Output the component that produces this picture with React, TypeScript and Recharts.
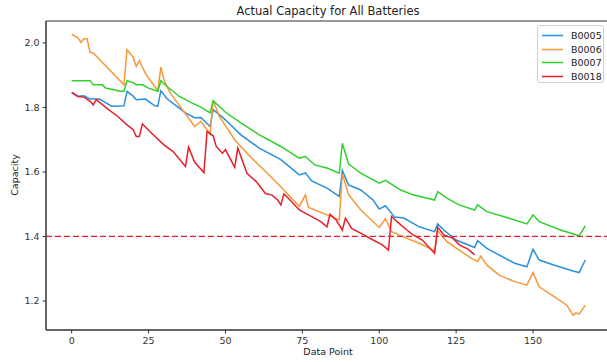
import React from 'react';
import { LineChart, Line, XAxis, YAxis, ReferenceLine, ReferenceArea } from 'recharts';

// values (cycle index -> capacity), vertices only
const b0005Idx = [0, 2, 4, 6, 9, 11, 13, 17, 18, 20, 21, 24, 27, 28, 29, 31, 34, 37, 40, 42, 45, 46, 49, 52, 55, 61, 68, 74, 76, 78, 83, 87, 88, 90, 94, 98, 100, 102, 105, 108, 113, 118, 119, 121, 125, 131, 132, 135, 144, 148, 150, 152, 157, 163, 165, 167];
const b0005Cap = [1.847, 1.835, 1.836, 1.826, 1.826, 1.815, 1.804, 1.805, 1.850, 1.835, 1.824, 1.826, 1.805, 1.804, 1.852, 1.827, 1.805, 1.783, 1.768, 1.769, 1.741, 1.793, 1.770, 1.743, 1.715, 1.674, 1.638, 1.591, 1.597, 1.572, 1.550, 1.524, 1.605, 1.560, 1.544, 1.513, 1.485, 1.495, 1.460, 1.457, 1.430, 1.415, 1.439, 1.420, 1.389, 1.366, 1.387, 1.363, 1.317, 1.306, 1.360, 1.327, 1.311, 1.293, 1.288, 1.327];

const b0006Idx = [0, 2, 3, 4, 5, 6, 7, 17, 18, 20, 21, 22, 24, 27, 28, 29, 30, 32, 40, 42, 45, 46, 48, 53, 58, 64, 69, 74, 76, 77, 83, 87, 88, 90, 94, 100, 102, 104, 109, 113, 118, 119, 122, 126, 130, 132, 133, 135, 139, 144, 148, 150, 152, 157, 161, 163, 164, 165, 167];
const b0006Cap = [2.027, 2.016, 2.002, 2.013, 2.013, 1.971, 1.969, 1.870, 1.979, 1.955, 1.927, 1.945, 1.905, 1.865, 1.853, 1.925, 1.886, 1.845, 1.741, 1.757, 1.718, 1.822, 1.772, 1.700, 1.648, 1.592, 1.544, 1.493, 1.529, 1.490, 1.467, 1.451, 1.594, 1.530, 1.482, 1.428, 1.455, 1.415, 1.394, 1.379, 1.355, 1.418, 1.384, 1.358, 1.332, 1.322, 1.339, 1.311, 1.280, 1.260, 1.249, 1.288, 1.244, 1.213, 1.187, 1.156, 1.163, 1.159, 1.187];

const b0007Idx = [0, 6, 7, 10, 11, 16, 17, 18, 20, 21, 23, 25, 28, 29, 31, 35, 39, 42, 45, 46, 50, 55, 61, 68, 74, 76, 79, 83, 87, 88, 90, 94, 100, 102, 107, 111, 118, 119, 122, 126, 131, 132, 135, 142, 148, 150, 152, 159, 165, 167];
const b0007Cap = [1.883, 1.883, 1.870, 1.870, 1.860, 1.850, 1.850, 1.883, 1.877, 1.870, 1.870, 1.860, 1.850, 1.883, 1.865, 1.834, 1.814, 1.801, 1.783, 1.821, 1.785, 1.752, 1.715, 1.679, 1.643, 1.648, 1.622, 1.612, 1.596, 1.689, 1.625, 1.596, 1.565, 1.574, 1.544, 1.529, 1.513, 1.539, 1.519, 1.498, 1.482, 1.498, 1.477, 1.457, 1.439, 1.467, 1.446, 1.420, 1.402, 1.433];

const b0018Idx = [0, 2, 4, 6, 7, 8, 12, 15, 18, 20, 21, 22, 23, 26, 30, 33, 37, 38, 40, 43, 44, 46, 47, 49, 50, 53, 54, 57, 60, 63, 65, 67, 68, 69, 71, 74, 77, 81, 83, 84, 86, 88, 89, 91, 95, 98, 101, 103, 104, 107, 109, 111, 114, 118, 119, 121, 124, 126, 129, 131];
const b0018Cap = [1.847, 1.834, 1.832, 1.819, 1.808, 1.824, 1.793, 1.772, 1.746, 1.731, 1.710, 1.710, 1.749, 1.720, 1.684, 1.663, 1.617, 1.677, 1.630, 1.598, 1.725, 1.712, 1.679, 1.658, 1.669, 1.614, 1.674, 1.596, 1.570, 1.533, 1.529, 1.513, 1.498, 1.532, 1.513, 1.482, 1.467, 1.446, 1.430, 1.469, 1.451, 1.420, 1.457, 1.425, 1.405, 1.389, 1.374, 1.358, 1.462, 1.436, 1.420, 1.405, 1.389, 1.348, 1.429, 1.405, 1.394, 1.374, 1.360, 1.343];

const seriesNames = ['B0005', 'B0006', 'B0007', 'B0018'];
const seriesColors = ['#2a8fdc', '#f5983a', '#2fcf2f', '#e5202a'];
const xTicks = [0, 25, 50, 75, 100, 125, 150];
const yTicks = [1.2, 1.4, 1.6, 1.8, 2.0];
const threshold = 1.4;

const toPoints = (idx: number[], cap: number[]) => idx.map((x, i) => ({ x, y: cap[i] }));

const series = [
  toPoints(b0005Idx, b0005Cap),
  toPoints(b0006Idx, b0006Cap),
  toPoints(b0007Idx, b0007Cap),
  toPoints(b0018Idx, b0018Cap),
];

const FONT = '"DejaVu Sans", sans-serif';
const X_DOMAIN = [-8.35, 175.35];
const Y_DOMAIN = [1.11, 2.068];

export default function App() {
  return (
    <div style={{ position: 'absolute', left: 0, top: 0, width: 607, height: 362, overflow: 'hidden', background: '#fff', fontFamily: FONT }}>
      <LineChart width={620} height={362} margin={{ top: 21, right: 9, bottom: 0, left: 0 }}>
        <XAxis
          type="number"
          dataKey="x"
          domain={X_DOMAIN}
          ticks={xTicks}
          allowDataOverflow
          height={32}
          tickSize={3.5}
          tickMargin={4}
          stroke="#333"
          tick={{ fill: '#333', fontSize: 9.5, fontFamily: FONT }}
        />
        <YAxis
          type="number"
          domain={Y_DOMAIN}
          ticks={yTicks}
          allowDataOverflow
          width={46}
          tickSize={3.5}
          tickMargin={3}
          stroke="#333"
          tick={{ fill: '#333', fontSize: 9.5, fontFamily: FONT }}
          tickFormatter={(v: number) => v.toFixed(1)}
        />
        <ReferenceArea x1={X_DOMAIN[0]} x2={X_DOMAIN[1]} y1={Y_DOMAIN[0]} y2={Y_DOMAIN[1]} fill="none" stroke="#333" strokeWidth={1} />
        {series.map((pts, i) => (
          <Line
            key={seriesNames[i]}
            data={pts}
            dataKey="y"
            name={seriesNames[i]}
            stroke={seriesColors[i]}
            strokeWidth={1.5}
            dot={false}
            isAnimationActive={false}
          />
        ))}
        <ReferenceLine y={threshold} stroke="#e8262a" strokeWidth={1.3} strokeDasharray="6 3" />
      </LineChart>

      <div style={{ position: 'absolute', left: 0, width: 656, top: 4, textAlign: 'center', fontSize: 11.5, color: '#222' }}>
        Actual Capacity for All Batteries
      </div>
      <div style={{ position: 'absolute', left: 0, width: 656, top: 346, textAlign: 'center', fontSize: 9.5, color: '#222' }}>
        Data Point
      </div>
      <div style={{ position: 'absolute', left: 14, top: 175, transform: 'translate(-50%, -50%) rotate(-90deg)', fontSize: 9.5, color: '#222', whiteSpace: 'nowrap' }}>
        Capacity
      </div>

      <div style={{ position: 'absolute', left: 537, top: 25, width: 67, height: 58, border: '1px solid #d0d0d0', borderRadius: 3, background: 'rgba(255,255,255,0.85)', boxSizing: 'border-box' }}>
        {seriesNames.map((name, i) => (
          <div key={name} style={{ position: 'absolute', left: 3, top: 3 + i * 13.6, height: 13, display: 'flex', alignItems: 'center' }}>
            <svg width={22} height={13} style={{ display: 'block' }}>
              <line x1={1} y1={6.5} x2={22} y2={6.5} stroke={seriesColors[i]} strokeWidth={1.5} />
            </svg>
            <span style={{ marginLeft: 8, fontSize: 9.5, color: '#222' }}>{name}</span>
          </div>
        ))}
      </div>
    </div>
  );
}
